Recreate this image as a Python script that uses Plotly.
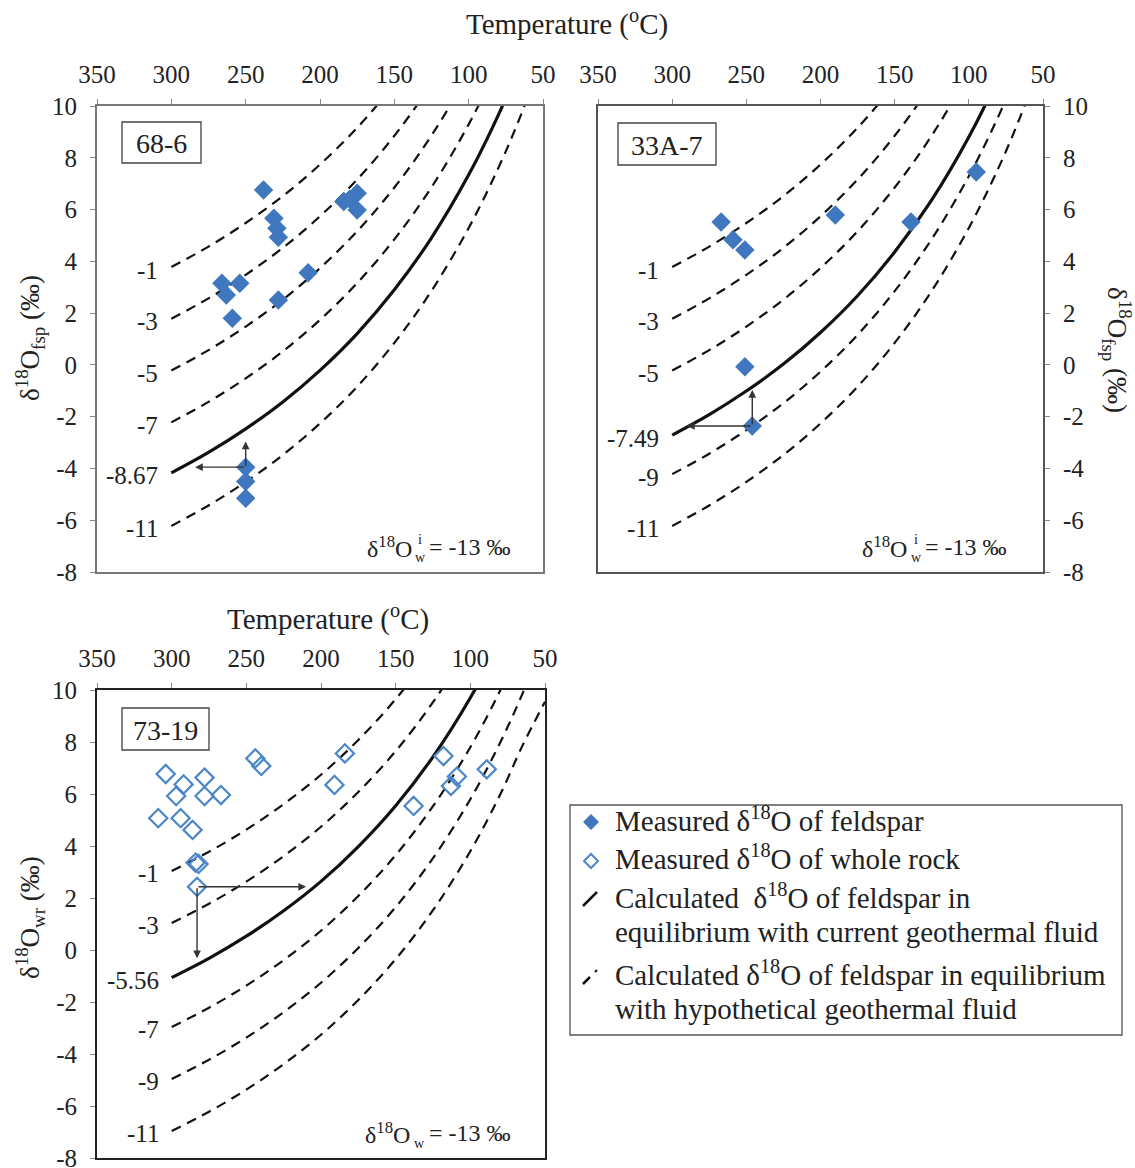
import plotly.graph_objects as go

W, H = 1135, 1168
FONT = "Liberation Serif"
TXT = "#222222"

# ---------------- data ----------------
temp_grid = [300, 275, 250, 225, 200, 175, 150, 125, 100, 80, 65, 50]

# Panel 68-6: calculated feldspar d18O curves for fluids
c68_m1 = [3.78, 4.57, 5.48, 6.52, 7.74, 9.16, 10.85, 12.86, 15.29, 17.61, 19.63, 21.94]
c68_m3 = [1.78, 2.57, 3.48, 4.52, 5.74, 7.16, 8.85, 10.86, 13.29, 15.61, 17.63, 19.94]
c68_m5 = [-0.22, 0.57, 1.48, 2.52, 3.74, 5.16, 6.85, 8.86, 11.29, 13.61, 15.63, 17.94]
c68_m7 = [-2.22, -1.43, -0.52, 0.52, 1.74, 3.16, 4.85, 6.86, 9.29, 11.61, 13.63, 15.94]
c68_cur = [-4.17, -3.38, -2.47, -1.43, -0.21, 1.21, 2.90, 4.91, 7.34, 9.66, 11.68, 13.99]
c68_m11 = [-6.22, -5.43, -4.52, -3.48, -2.26, -0.84, 0.85, 2.86, 5.29, 7.61, 9.63, 11.94]

# Panel 33A-7
c33_m1 = [3.78, 4.57, 5.48, 6.52, 7.74, 9.16, 10.85, 12.86, 15.29, 17.61, 19.63, 21.94]
c33_m3 = [1.78, 2.57, 3.48, 4.52, 5.74, 7.16, 8.85, 10.86, 13.29, 15.61, 17.63, 19.94]
c33_m5 = [-0.22, 0.57, 1.48, 2.52, 3.74, 5.16, 6.85, 8.86, 11.29, 13.61, 15.63, 17.94]
c33_cur = [-2.71, -1.92, -1.01, 0.03, 1.25, 2.67, 4.36, 6.37, 8.80, 11.12, 13.14, 15.45]
c33_m9 = [-4.22, -3.43, -2.52, -1.48, -0.26, 1.16, 2.85, 4.86, 7.29, 9.61, 11.63, 13.94]
c33_m11 = [-6.22, -5.43, -4.52, -3.48, -2.26, -0.84, 0.85, 2.86, 5.29, 7.61, 9.63, 11.94]

# Panel 73-19
c73_m1 = [3.04, 3.78, 4.63, 5.61, 6.74, 8.08, 9.65, 11.53, 13.80, 15.98, 17.87, 20.03]
c73_m3 = [1.04, 1.78, 2.63, 3.61, 4.74, 6.08, 7.65, 9.53, 11.80, 13.98, 15.87, 18.03]
c73_cur = [-1.06, -0.32, 0.53, 1.51, 2.64, 3.98, 5.55, 7.43, 9.70, 11.88, 13.77, 15.93]
c73_m7 = [-2.96, -2.22, -1.37, -0.39, 0.74, 2.08, 3.65, 5.53, 7.80, 9.98, 11.87, 14.03]
c73_m9 = [-4.96, -4.22, -3.37, -2.39, -1.26, 0.08, 1.65, 3.53, 5.80, 7.98, 9.87, 12.03]
c73_m11 = [-6.96, -6.22, -5.37, -4.39, -3.26, -1.92, -0.35, 1.53, 3.80, 5.98, 7.87, 9.55]

# Measured feldspar, 68-6
fsp68_T = [238, 231, 229, 228, 184, 180, 175, 175, 208, 266, 254, 263, 228, 259, 250, 250, 250]
fsp68_d = [6.76, 5.66, 5.28, 4.93, 6.31, 6.40, 6.63, 5.98, 3.56, 3.15, 3.15, 2.70, 2.51, 1.80, -3.95, -4.50, -5.15]
# Measured feldspar, 33A-7
fsp33_T = [267, 259, 251, 190, 139, 95, 251, 246]
fsp33_d = [5.52, 4.83, 4.44, 5.79, 5.52, 7.45, -0.07, -2.36]
# Measured whole rock, 73-19
wr73_T = [304, 292, 297, 278, 278, 267, 309, 294, 286, 244, 240, 184, 191, 284, 282, 283, 118, 109, 113, 138, 89]
wr73_d = [6.77, 6.37, 5.92, 6.63, 5.92, 5.96, 5.07, 5.07, 4.62, 7.37, 7.08, 7.56, 6.35, 3.36, 3.31, 2.43,
          7.46, 6.67, 6.31, 5.54, 6.95]

# arrows: (tail T, tail d, head T, head d)
arrows68 = [(250, -3.95, 284, -3.95), (250, -3.95, 250, -2.96)]
arrows33 = [(246, -2.36, 290, -2.36), (246, -2.36, 246, -0.97)]
arrows73 = [(283, 2.43, 210, 2.43), (283, 2.43, 283, -0.32)]

x_ticks = [350, 300, 250, 200, 150, 100, 50]
y_ticks = [10, 8, 6, 4, 2, 0, -2, -4, -6, -8]

panels = [
    dict(xa="x", ya="y", name="68-6",
         curves=[("-1", c68_m1, False), ("-3", c68_m3, False), ("-5", c68_m5, False),
                 ("-7", c68_m7, False), ("-8.67", c68_cur, True), ("-11", c68_m11, False)],
         pts=(fsp68_T, fsp68_d, True), arrows=arrows68),
    dict(xa="x2", ya="y2", name="33A-7",
         curves=[("-1", c33_m1, False), ("-3", c33_m3, False), ("-5", c33_m5, False),
                 ("-7.49", c33_cur, True), ("-9", c33_m9, False), ("-11", c33_m11, False)],
         pts=(fsp33_T, fsp33_d, True), arrows=arrows33),
    dict(xa="x3", ya="y3", name="73-19",
         curves=[("-1", c73_m1, False), ("-3", c73_m3, False), ("-5.56", c73_cur, True),
                 ("-7", c73_m7, False), ("-9", c73_m9, False), ("-11", c73_m11, False)],
         pts=(wr73_T, wr73_d, False), arrows=arrows73),
]

BLUE = "#3F78BE"

def px(x):
    return x / W

def py(y):
    return 1 - y / H

fig = go.Figure()
annotations = []
shapes = []

for p in panels:
    for lab, vals, solid in p["curves"]:
        fig.add_trace(go.Scatter(
            x=temp_grid, y=vals, xaxis=p["xa"], yaxis=p["ya"], mode="lines",
            line=dict(color="#111111", width=3.2 if solid else 2.2,
                      dash="solid" if solid else "10px,7px", shape="spline"),
            showlegend=False, hoverinfo="skip"))
        annotations.append(dict(
            x=temp_grid[0], y=vals[0], xref=p["xa"], yref=p["ya"], text=lab,
            showarrow=False, xanchor="right", yanchor="middle", xshift=-11, yshift=-3,
            font=dict(family=FONT, size=25, color=TXT)))
    T, d, filled = p["pts"]
    if filled:
        mk = dict(symbol="diamond", size=15, color=BLUE, line=dict(width=0))
    else:
        mk = dict(symbol="diamond-open", size=14, color="#4A86C8", line=dict(width=2.2, color="#4A86C8"))
    fig.add_trace(go.Scatter(x=T, y=d, xaxis=p["xa"], yaxis=p["ya"], mode="markers",
                             marker=mk, showlegend=False, hoverinfo="skip"))
    for (t0, d0, t1, d1) in p["arrows"]:
        annotations.append(dict(
            x=t1, y=d1, ax=t0, ay=d0, xref=p["xa"], yref=p["ya"],
            axref=p["xa"], ayref=p["ya"], text="", showarrow=True,
            arrowhead=2, arrowsize=1.1, arrowwidth=1.4, arrowcolor="#333333", standoff=0))

# ---------------- axes ----------------
def xaxis(domain, anchor, lc):
    return dict(domain=domain, anchor=anchor, side="top", range=[350, 50],
                tickvals=x_ticks, ticktext=[str(v) for v in x_ticks],
                showline=True, mirror=True, linecolor=lc, linewidth=1.8,
                ticks="outside", ticklen=5, tickcolor="#888888", tickwidth=1,
                ticklabelstandoff=6, automargin=False, ticklabeloverflow="allow",
                tickfont=dict(family=FONT, size=25, color=TXT),
                showgrid=False, zeroline=False, fixedrange=True)

def yaxis(domain, anchor, side, lc):
    return dict(domain=domain, anchor=anchor, side=side, range=[-8, 10],
                tickvals=y_ticks, ticktext=[str(v) for v in y_ticks],
                showline=True, mirror=True, linecolor=lc, linewidth=1.8,
                ticks="outside", ticklen=5, tickcolor="#888888", tickwidth=1,
                ticklabelstandoff=8, automargin=False, ticklabeloverflow="allow",
                tickfont=dict(family=FONT, size=25, color=TXT),
                showgrid=False, zeroline=False, fixedrange=True)

d1x = [px(97), px(543)]
d2x = [px(598), px(1043)]
d3x = [px(97), px(545)]
dty = [py(572), py(106)]
dby = [py(1158), py(690)]

# ---------------- texts ----------------
def ann(x, y, text, size=25, angle=0, xanchor="center", yanchor="middle"):
    annotations.append(dict(x=px(x), y=py(y), xref="paper", yref="paper", text=text,
                            showarrow=False, textangle=angle, xanchor=xanchor, yanchor=yanchor,
                            font=dict(family=FONT, size=size, color=TXT)))

ann(567, 22, "Temperature (<sup>o</sup>C)", size=29)
ann(328, 617, "Temperature (<sup>o</sup>C)", size=29)
ann(30, 338, "δ<sup>18</sup>O<sub>fsp</sub> (‰)", size=27, angle=-90)
ann(30, 918, "δ<sup>18</sup>O<sub>wr</sub> (‰)", size=27, angle=-90)
ann(1117, 350, "δ<sup>18</sup>O<sub>fsp</sub> (‰)", size=27, angle=90)

# sample labels with boxes
for (x0, y0, x1, y1, name) in [(122, 122, 201, 163, "68-6"), (618, 123, 716, 165, "33A-7"),
                               (122, 708, 209, 750, "73-19")]:
    shapes.append(dict(type="rect", xref="paper", yref="paper", x0=px(x0), x1=px(x1),
                       y0=py(y1), y1=py(y0), line=dict(color="#444444", width=1.3)))
    ann((x0 + x1) / 2, (y0 + y1) / 2 + 1, name, size=28)

# fluid composition notes
for (xl, xw, xr, yc, has_i) in [(414, 420, 427, 547, True), (909, 916, 923, 547, True),
                                (412, 419, 427, 1133, False)]:
    ann(xl, yc, "δ<sup>18</sup>O", size=24, xanchor="right")
    ann(xw, yc + 10, "w", size=14)
    if has_i:
        ann(xw, yc - 8, "i", size=14)
    ann(xr, yc, "= -13 ‰", size=24, xanchor="left")

# ---------------- legend ----------------
shapes.append(dict(type="rect", xref="paper", yref="paper", x0=px(570), x1=px(1122),
                   y0=py(1035), y1=py(805), line=dict(color="#555555", width=1.3)))

def diamond_path(cx, cy, r):
    return (f"M {px(cx - r)} {py(cy)} L {px(cx)} {py(cy - r)} L {px(cx + r)} {py(cy)} "
            f"L {px(cx)} {py(cy + r)} Z")

shapes.append(dict(type="path", xref="paper", yref="paper", path=diamond_path(591, 822, 8),
                   fillcolor=BLUE, line=dict(width=0)))
shapes.append(dict(type="path", xref="paper", yref="paper", path=diamond_path(591, 861, 7),
                   fillcolor="white", line=dict(color="#4A86C8", width=2)))
shapes.append(dict(type="line", xref="paper", yref="paper", x0=px(583), y0=py(906),
                   x1=px(597), y1=py(892), line=dict(color="#111111", width=2.5)))
shapes.append(dict(type="line", xref="paper", yref="paper", x0=px(583), y0=py(984),
                   x1=px(590), y1=py(977), line=dict(color="#111111", width=2.5)))
shapes.append(dict(type="line", xref="paper", yref="paper", x0=px(595), y0=py(972),
                   x1=px(597), y1=py(970), line=dict(color="#111111", width=2)))

leg_lines = [(819, "Measured δ<sup>18</sup>O of feldspar"),
             (857, "Measured δ<sup>18</sup>O of whole rock"),
             (896, "Calculated  δ<sup>18</sup>O of feldspar in"),
             (932, "equilibrium with current geothermal fluid"),
             (973, "Calculated δ<sup>18</sup>O of feldspar in equilibrium"),
             (1009, "with hypothetical geothermal fluid")]
for (yy, t) in leg_lines:
    ann(613, yy, t, size=29, xanchor="left")

fig.update_layout(
    width=W, height=H, margin=dict(l=0, r=0, t=0, b=0, pad=0, autoexpand=False),
    paper_bgcolor="white", plot_bgcolor="white", showlegend=False,
    xaxis=xaxis(d1x, "y", "#777777"), yaxis=yaxis(dty, "x", "left", "#777777"),
    xaxis2=xaxis(d2x, "y2", "#555555"), yaxis2=yaxis(dty, "x2", "right", "#555555"),
    xaxis3=xaxis(d3x, "y3", "#222222"), yaxis3=yaxis(dby, "x3", "left", "#222222"),
    annotations=annotations, shapes=shapes,
)

fig.write_html("out.html")
